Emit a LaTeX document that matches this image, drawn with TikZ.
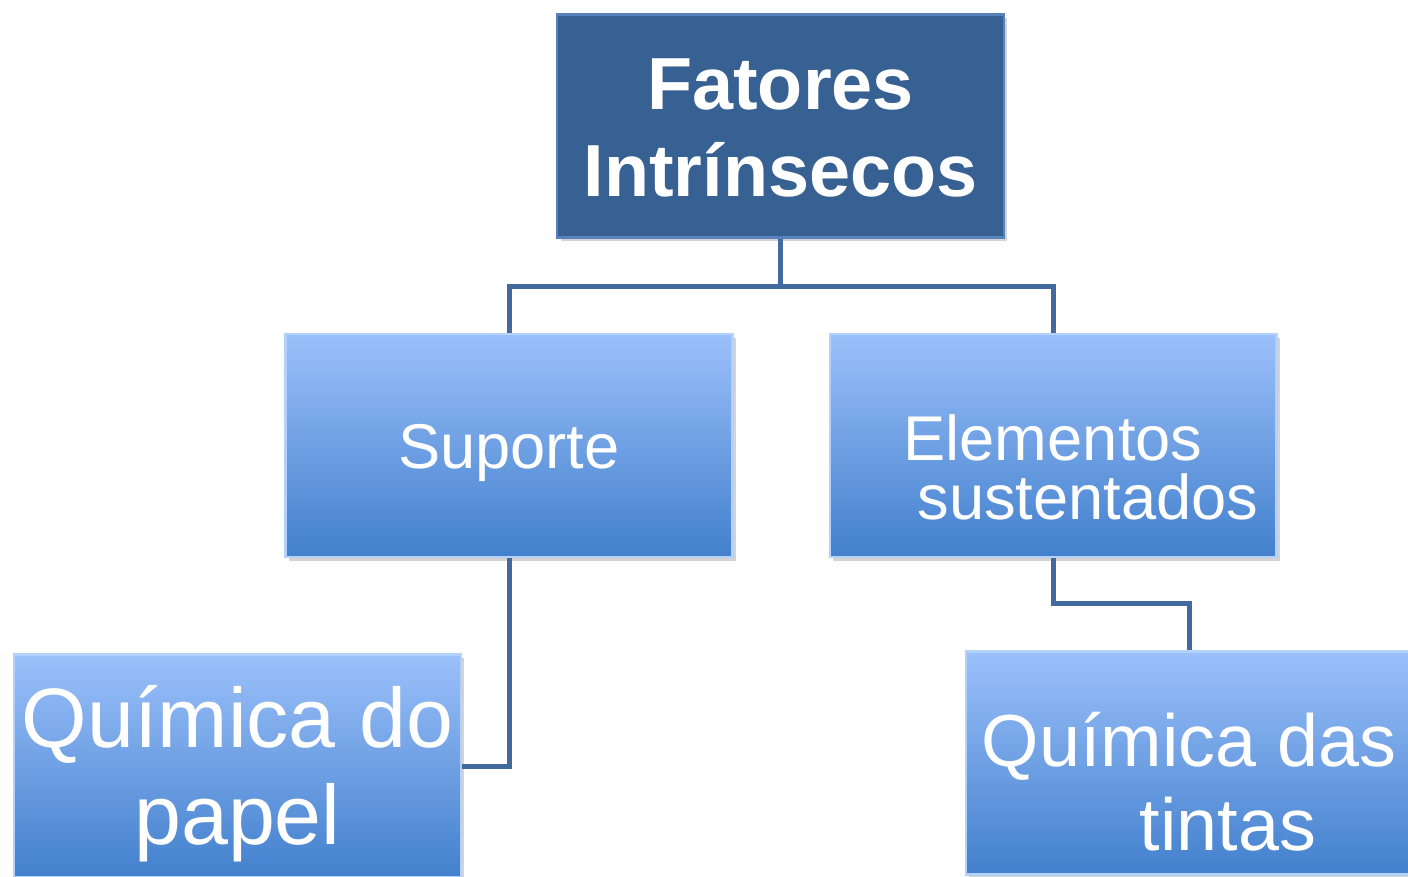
\documentclass[tikz,border=0pt]{standalone}
\usepackage{fontspec}
\setmainfont{Liberation Sans}
\usetikzlibrary{shadows}
\definecolor{darkfill}{RGB}{54,97,146}
\definecolor{darkedge}{RGB}{88,130,185}
\definecolor{lighttop}{RGB}{155,192,250}
\definecolor{lightmid}{RGB}{126,168,234}
\definecolor{lightbot}{RGB}{66,128,205}
\definecolor{lightedge}{RGB}{178,210,252}
\definecolor{linkblue}{RGB}{66,106,158}

\begin{document}
\begin{tikzpicture}[x=0.02cm, y=-0.02cm]
        % ================= estilos =================
        \tikzset{
            % caixa base com sombra
            box/.style={rectangle, minimum width=8.94cm, minimum height=4.46cm, inner sep=0pt,
                drop shadow={opacity=0.35, shadow xshift=2pt, shadow yshift=-2pt}},
            % caixa escura (raiz)
            dark_box/.style={box, fill=darkfill, draw=darkedge, line width=1.2pt},
            % caixas claras com degradê
            light_box/.style={box, top color=lighttop, middle color=lightmid, bottom color=lightbot, draw=lightedge, line width=1.2pt},
            % texto branco
            txt/.style={align=center, text=white, inner sep=0pt},
            % ligações
            link/.style={line width=0.1cm, linkblue}
        }

        \useasboundingbox (0,0) rectangle (1408,876);

        % ================= caixas =================
        \node[dark_box] (topo) at (780.5,126) {};
        \node[light_box] (suporte) at (509,445.5) {};
        \node[light_box] (elem) at (1053,445.5) {};
        \node[light_box] (papel) at (237.5,766) {};
        \node[light_box] (tintas) at (1189,763) {};

        % ================= textos =================
        \node[txt, font=\bfseries\fontsize{42}{49}\selectfont] (topo_t) at ([yshift=-0.04cm]topo.center) {Fatores\\Intrínsecos};
        \node[txt, font=\fontsize{36}{40}\selectfont] (suporte_t) at ([yshift=-0.14cm]suporte.center) {Suporte};
        \node[txt, font=\fontsize{36}{34}\selectfont] (elem_t) at ([yshift=-0.44cm]elem.center) {Elementos\\\hspace*{1.4cm}sustentados};
        \node[txt, font=\fontsize{48}{55}\selectfont] (papel_t) at ([yshift=-0.16cm]papel.center) {Química do\\papel};
        \node[txt, font=\fontsize{42}{48}\selectfont] (tintas_t) at ([yshift=-0.38cm]tintas.center) {Química das\\\hspace*{1.56cm}tintas};

        % ================= ligações =================
        \draw[link] (topo.south) -- ++(0,48) -| (suporte.north);
        \draw[link] (topo.south) -- ++(0,48) -| (elem.north);
        \draw[link] (suporte.south) |- (papel.east);
        \draw[link] (elem.south) -- ++(0,45) -| (tintas.north);

    \end{tikzpicture}
\end{document}
